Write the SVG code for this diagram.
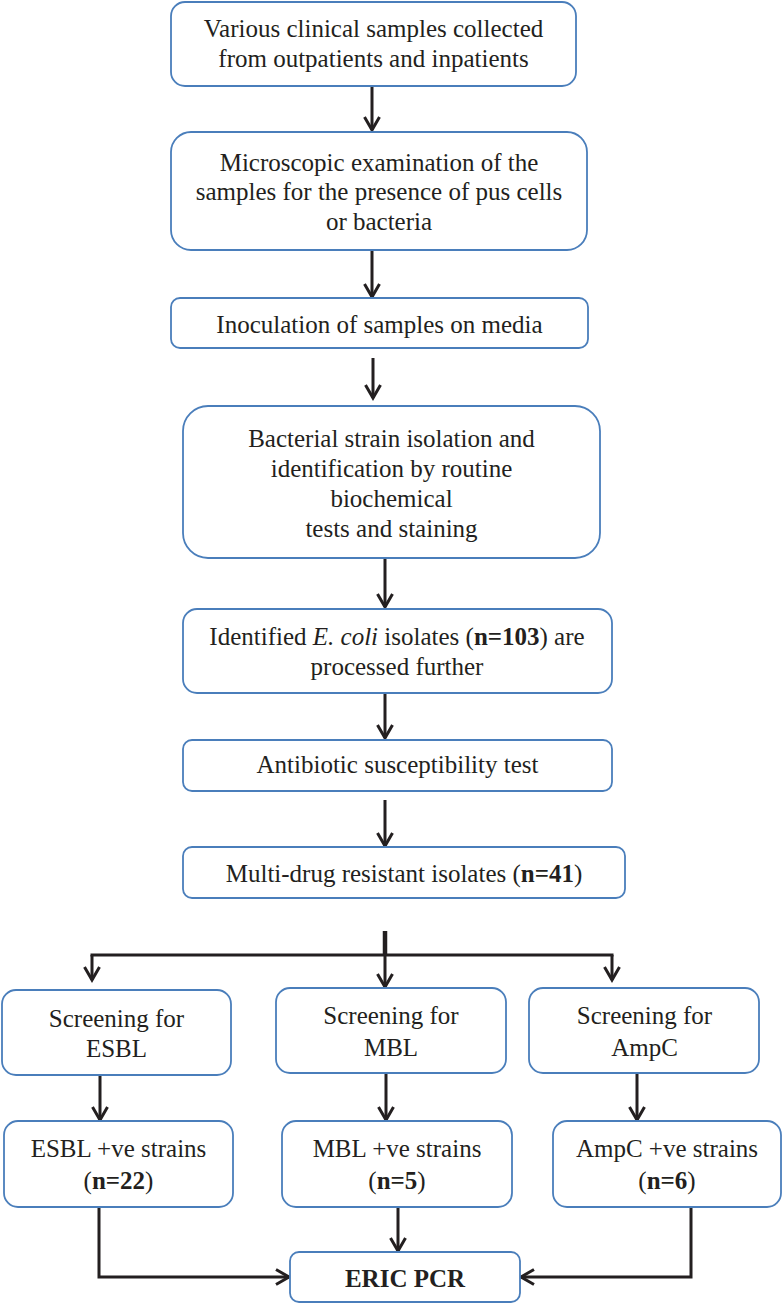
<svg xmlns="http://www.w3.org/2000/svg" width="782" height="1305" viewBox="0 0 782 1305">
<defs>
<style>
.box{fill:#ffffff;stroke:#4a7ebb;stroke-width:1.8}
.t{font-family:"Liberation Serif","Times New Roman",serif;font-size:25px;fill:#231f20;text-anchor:middle}
.b{font-weight:bold}
.i{font-style:italic}
.c{fill:none;stroke:#231f20;stroke-width:3}
</style>
<marker id="ah" markerUnits="userSpaceOnUse" markerWidth="20" markerHeight="20" refX="15" refY="9" orient="auto" overflow="visible">
<path d="M2,1.5 L15,9 L2,16.5" fill="none" stroke="#231f20" stroke-width="3"/>
</marker>
</defs>
<rect width="782" height="1305" fill="#ffffff"/>
<g id="connectors">
<line class="c" x1="372" y1="86" x2="372" y2="130" marker-end="url(#ah)"/>
<line class="c" x1="372" y1="250" x2="372" y2="297" marker-end="url(#ah)"/>
<line class="c" x1="373" y1="358" x2="373" y2="398" marker-end="url(#ah)"/>
<line class="c" x1="385" y1="558" x2="385" y2="607" marker-end="url(#ah)"/>
<line class="c" x1="385" y1="693" x2="385" y2="738" marker-end="url(#ah)"/>
<line class="c" x1="385" y1="800" x2="385" y2="846" marker-end="url(#ah)"/>
<line x1="385" y1="931" x2="385" y2="956" stroke="#231f20" stroke-width="4.5"/>
<line class="c" x1="90.5" y1="955" x2="613.5" y2="955"/>
<line class="c" x1="92" y1="955" x2="92" y2="980" marker-end="url(#ah)"/>
<line class="c" x1="385" y1="955" x2="385" y2="987" marker-end="url(#ah)"/>
<line class="c" x1="612" y1="955" x2="612" y2="980" marker-end="url(#ah)"/>
<line class="c" x1="100" y1="1075" x2="100" y2="1120" marker-end="url(#ah)"/>
<line class="c" x1="386" y1="1073" x2="386" y2="1120" marker-end="url(#ah)"/>
<line class="c" x1="637" y1="1073" x2="637" y2="1120" marker-end="url(#ah)"/>
<polyline class="c" points="99,1207 99,1277 289,1277" marker-end="url(#ah)"/>
<line class="c" x1="398" y1="1207" x2="398" y2="1251" marker-end="url(#ah)"/>
<polyline class="c" points="691,1205 691,1277 521,1277" marker-end="url(#ah)"/>
</g>
<g id="n1">
<rect class="box" x="171" y="2" width="405" height="84" rx="14"/>
<text class="t" x="373.5" y="37">Various clinical samples collected</text>
<text class="t" x="373.5" y="67">from outpatients and inpatients</text>
</g>
<g id="n2">
<rect class="box" x="171" y="132" width="416" height="118" rx="20"/>
<text class="t" x="379" y="171">Microscopic examination of the</text>
<text class="t" x="379" y="200">samples for the presence of pus cells</text>
<text class="t" x="379" y="230">or bacteria</text>
</g>
<g id="n3">
<rect class="box" x="171" y="298" width="417" height="50" rx="9"/>
<text class="t" x="379.5" y="333">Inoculation of samples on media</text>
</g>
<g id="n4">
<rect class="box" x="183" y="406" width="417" height="152" rx="25"/>
<text class="t" x="391.5" y="447">Bacterial strain isolation and</text>
<text class="t" x="391.5" y="477">identification by routine</text>
<text class="t" x="391.5" y="507">biochemical</text>
<text class="t" x="391.5" y="537">tests and staining</text>
</g>
<g id="n5">
<rect class="box" x="183" y="609" width="429" height="84" rx="14"/>
<text class="t" x="397" y="645">Identified <tspan class="i">E. coli</tspan> isolates (<tspan class="b">n=103</tspan>) are</text>
<text class="t" x="397" y="675">processed further</text>
</g>
<g id="n6">
<rect class="box" x="183" y="740" width="429" height="51" rx="9"/>
<text class="t" x="397.5" y="773">Antibiotic susceptibility test</text>
</g>
<g id="n7">
<rect class="box" x="183" y="847" width="442" height="51" rx="9"/>
<text class="t" x="404" y="882">Multi-drug resistant isolates (<tspan class="b">n=41</tspan>)</text>
</g>
<g id="n8">
<rect class="box" x="2" y="990" width="229" height="85" rx="14"/>
<text class="t" x="116.5" y="1027">Screening for</text>
<text class="t" x="116.5" y="1057">ESBL</text>
</g>
<g id="n9">
<rect class="box" x="276" y="988" width="230" height="85" rx="14"/>
<text class="t" x="391" y="1024">Screening for</text>
<text class="t" x="391" y="1056">MBL</text>
</g>
<g id="n10">
<rect class="box" x="529" y="988" width="230" height="85" rx="14"/>
<text class="t" x="644.5" y="1024">Screening for</text>
<text class="t" x="644.5" y="1056">AmpC</text>
</g>
<g id="n11">
<rect class="box" x="4" y="1121" width="229" height="86" rx="14"/>
<text class="t" x="118.5" y="1157">ESBL +ve strains</text>
<text class="t" x="118.5" y="1189">(<tspan class="b">n=22</tspan>)</text>
</g>
<g id="n12">
<rect class="box" x="282" y="1121" width="230" height="86" rx="14"/>
<text class="t" x="397" y="1157">MBL +ve strains</text>
<text class="t" x="397" y="1189">(<tspan class="b">n=5</tspan>)</text>
</g>
<g id="n13">
<rect class="box" x="553" y="1121" width="228" height="86" rx="14"/>
<text class="t" x="667" y="1157">AmpC +ve strains</text>
<text class="t" x="667" y="1189">(<tspan class="b">n=6</tspan>)</text>
</g>
<g id="n14">
<rect class="box" x="290" y="1252" width="230" height="50" rx="9"/>
<text class="t b" x="405" y="1287">ERIC PCR</text>
</g>
</svg>
